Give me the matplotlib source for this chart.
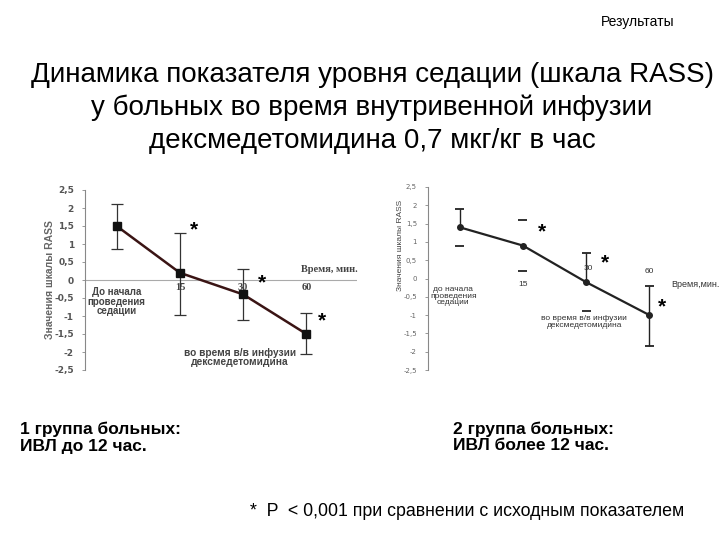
import matplotlib.pyplot as plt
import matplotlib.ticker as mticker

# data
categories = ['до', '15', '30', '60']
g1_mean = [1.5, 0.2, -0.4, -1.5]
g1_low = [0.85, -0.97, -1.12, -2.05]
g1_high = [2.1, 1.3, 0.3, -0.93]
g2_mean = [1.4, 0.9, -0.1, -1.0]
g2_low = [0.9, 0.2, -0.9, -1.85]
g2_high = [1.9, 1.6, 0.7, -0.2]
yticks = [2.5, 2, 1.5, 1, 0.5, 0, -0.5, -1, -1.5, -2, -2.5]

W, H = 720, 540
fig = plt.figure(figsize=(7.2, 5.4), dpi=100)
fig.patch.set_facecolor('white')

sans = ['Liberation Sans', 'DejaVu Sans']
serif = ['Liberation Serif', 'DejaVu Serif']


def px(x, y):
    return x / W, 1 - y / H


fig.text(*px(675, 22), 'Результаты', ha='right', va='center', fontsize=10, family=sans)
title = ['Динамика показателя уровня седации (шкала RASS)',
         'у больных во время внутривенной инфузии',
         'дексмедетомидина 0,7 мкг/кг в час']
for i, line in enumerate(title):
    fig.text(*px(372, 75 + i * 33), line, ha='center', va='center', fontsize=20, family=sans)


def comma(v, pos):
    return ('%g' % v).replace('.', ',')


def setup_axes(ax, tick_size, color):
    ax.set_xlim(-0.5, 3.8)
    ax.set_ylim(-2.5, 2.5)
    for s in ['top', 'right', 'bottom']:
        ax.spines[s].set_visible(False)
    ax.spines['left'].set_color('#888888')
    ax.spines['left'].set_linewidth(0.8)
    ax.set_xticks([])
    ax.set_yticks(yticks)
    ax.yaxis.set_major_formatter(mticker.FuncFormatter(comma))
    ax.tick_params(axis='y', length=2, width=0.6, color='#888888', labelsize=tick_size,
                   labelcolor=color, pad=6)
    ax.patch.set_alpha(0)


x = list(range(len(categories)))

# ---- group 1 (left)
ax1 = fig.add_axes([85 / W, (540 - 370) / H, 272 / W, 180 / H])
setup_axes(ax1, 6.5, '#555555')
for lab in ax1.get_yticklabels():
    lab.set_fontweight('bold')
ax1.axhline(0, color='#aaaaaa', lw=0.8)
err1 = [[m - lo for m, lo in zip(g1_mean, g1_low)], [hi - m for m, hi in zip(g1_mean, g1_high)]]
ax1.errorbar(x, g1_mean, yerr=err1, fmt='none', ecolor='#333333', elinewidth=0.9, capsize=4, capthick=0.9)
ax1.plot(x, g1_mean, color='#3a1414', lw=1.8, marker='s', ms=6, mfc='#111111', mec='#111111')
ax1.set_ylabel('Значения шкалы RASS', fontsize=7.5, color='#666666', fontweight='bold', family=sans)
ax1.yaxis.set_label_coords(-0.11, 0.5)

ax1.text(0, -0.2, 'До начала\nпроведения\nседации', ha='center', va='top', fontsize=7,
         fontweight='bold', color='#444444', linespacing=0.95, family=sans)
for i in range(1, 4):
    ax1.text(i, -0.2, categories[i], ha='center', va='center', fontsize=7.5, fontweight='bold',
             color='#444444', family=serif)
ax1.text(3.36, 0.28, 'Время, мин.', ha='center', va='center', fontsize=7.5, fontweight='bold',
         color='#444444', family=serif, clip_on=False)
ax1.text(1.95, -2.15, 'во время в/в инфузии\nдексмедетомидина', ha='center', va='center', fontsize=7.3,
         fontweight='bold', color='#444444', linespacing=0.95, family=sans)
for sx, sy in [(1.22, 1.39), (2.3, -0.08), (3.25, -1.14)]:
    ax1.text(sx, sy, '*', ha='center', va='center', fontsize=15, fontweight='bold', family=sans)

# ---- group 2 (right)
ax2 = fig.add_axes([428 / W, (540 - 370) / H, 272 / W, 183 / H])
setup_axes(ax2, 5, '#666666')
ax2.set_ylabel('Значения шкалы RASS', fontsize=6, color='#444444', family=sans)
ax2.yaxis.set_label_coords(-0.09, 0.68)
show_upper = [True, False, True, True]
show_lower = [False, False, False, True]
for i in x:
    ax2.hlines([g2_low[i], g2_high[i]], i - 0.07, i + 0.07, color='#222222', lw=1.3)
    if show_upper[i]:
        ax2.vlines(i, g2_mean[i], g2_high[i], color='#222222', lw=1.0)
    if show_lower[i]:
        ax2.vlines(i, g2_low[i], g2_mean[i], color='#222222', lw=1.0)
ax2.plot(x, g2_mean, color='#222222', lw=1.6, marker='o', ms=4, mfc='#222222', mec='#222222')

ax2.text(-0.1, -0.2, 'до начала\nпроведения\nседации', ha='center', va='top', fontsize=6,
         color='#333333', linespacing=0.95, family=sans)
ax2.text(1, -0.17, '15', ha='center', va='center', fontsize=6, color='#333333', family=sans)
ax2.text(2.03, 0.26, '30', ha='center', va='center', fontsize=6, color='#333333', family=sans)
ax2.text(3, 0.2, '60', ha='center', va='center', fontsize=6, color='#333333', family=sans)
ax2.text(3.35, -0.17, 'Время,мин.', ha='left', va='center', fontsize=6.5, color='#333333',
         family=sans, clip_on=False)
ax2.text(1.97, -1.18, 'во время в/в инфузии\nдексмедетомидина', ha='center', va='center', fontsize=6,
         color='#333333', linespacing=0.95, family=sans)
for sx, sy in [(1.3, 1.27), (2.3, 0.43), (3.2, -0.77)]:
    ax2.text(sx, sy, '*', ha='center', va='center', fontsize=15, fontweight='bold', family=sans)

# ---- captions
caps = [(20, '1 группа больных:', 'ИВЛ до 12 час.'),
        (453, '2 группа больных:', 'ИВЛ более 12 час.')]
for cx, l1, l2 in caps:
    fig.text(*px(cx, 429), l1, ha='left', va='center', fontsize=12.5, fontweight='bold', family=sans)
    fig.text(*px(cx, 446), l2, ha='left', va='center', fontsize=12.5, fontweight='bold', family=sans)
fig.text(*px(250, 512), '*  P  < 0,001 при сравнении с исходным показателем', ha='left', va='center',
         fontsize=12.8, family=sans)

fig.savefig('out.png', dpi=100)
